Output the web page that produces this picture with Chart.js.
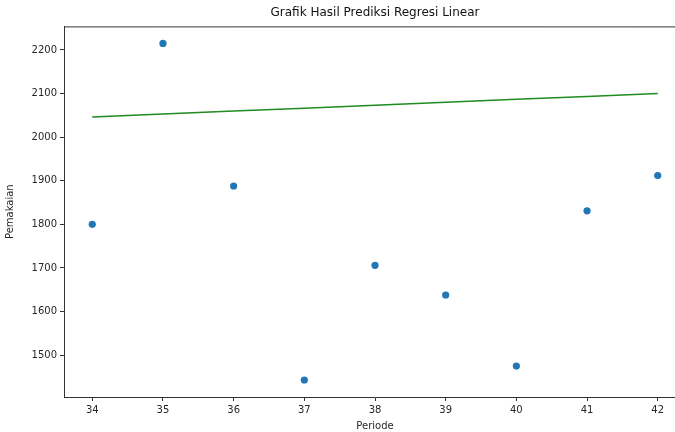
<!DOCTYPE html>
<html>
<head>
<meta charset="utf-8">
<script src="https://cdn.jsdelivr.net/npm/chart.js@4/dist/chart.umd.min.js"></script>
<style>
  html, body { margin: 0; padding: 0; background: #fff; overflow: hidden; }
  #wrap { width: 700px; height: 432px; }
</style>
</head>
<body>
<div id="wrap"><canvas id="c" width="700" height="432"></canvas></div>
<script>
const periods = [34, 35, 36, 37, 38, 39, 40, 41, 42];
const actualUsage = [1800, 2215, 1888, 1443, 1706, 1638, 1475, 1831, 1912];
const predictedUsage = [2046, 2053, 2060, 2066, 2073, 2080, 2087, 2093, 2100];
const xTicks = [34, 35, 36, 37, 38, 39, 40, 41, 42];
const yTicks = [1500, 1600, 1700, 1800, 1900, 2000, 2100, 2200];

const font = 'DejaVu Sans';
const tickColor = '#262626';

const topSpine = {
  id: 'topSpine',
  afterDraw(chart) {
    const { ctx, chartArea: a } = chart;
    ctx.save();
    ctx.strokeStyle = '#333';
    ctx.lineWidth = 1;
    ctx.beginPath();
    ctx.moveTo(a.left, a.top + 0.5);
    ctx.lineTo(a.right, a.top + 0.5);
    ctx.stroke();
    ctx.restore();
  }
};

new Chart(document.getElementById('c'), {
  type: 'scatter',
  data: {
    datasets: [
      {
        label: 'Prediksi',
        type: 'line',
        data: periods.map((p, i) => ({ x: p, y: predictedUsage[i] })),
        borderColor: '#1e8c1e',
        borderWidth: 1.5,
        pointRadius: 0,
        fill: false,
        tension: 0,
        order: 2
      },
      {
        label: 'Aktual',
        data: periods.map((p, i) => ({ x: p, y: actualUsage[i] })),
        backgroundColor: '#1f77b4',
        borderWidth: 0,
        pointRadius: 3.6,
        order: 1
      }
    ]
  },
  options: {
    responsive: false,
    animation: false,
    layout: { padding: { left: 4, right: 14, top: 0, bottom: 0 } },
    plugins: {
      legend: { display: false },
      tooltip: { enabled: false },
      title: {
        display: true,
        text: 'Grafik Hasil Prediksi Regresi Linear',
        fullSize: false,
        color: '#111',
        font: { family: font, size: 12, weight: 'normal' },
        padding: { top: 6, bottom: 6 }
      }
    },
    scales: {
      x: {
        type: 'linear',
        min: 33.6,
        max: 42.4,
        afterBuildTicks(s) { s.ticks = xTicks.map(v => ({ value: v })); },
        afterFit(s) { s.height = 35; },
        grid: { drawOnChartArea: false, drawTicks: true, tickLength: 4, color: '#333' },
        border: { color: '#333', width: 1 },
        ticks: { color: tickColor, font: { family: font, size: 10 }, padding: 3, maxRotation: 0, callback: v => String(v) },
        title: { display: true, text: 'Periode', color: tickColor, font: { family: font, size: 10 }, padding: { top: 0, bottom: 0 } }
      },
      y: {
        type: 'linear',
        min: 1404,
        max: 2254,
        afterBuildTicks(s) { s.ticks = yTicks.map(v => ({ value: v })); },
        afterFit(s) { s.width = 60; },
        grid: { drawOnChartArea: false, drawTicks: true, tickLength: 4, color: '#333' },
        border: { color: '#333', width: 1 },
        ticks: { color: tickColor, font: { family: font, size: 10 }, padding: 3, callback: v => String(v) },
        title: { display: true, text: 'Pemakaian', color: tickColor, font: { family: font, size: 10 }, padding: { top: 0, bottom: 0 } }
      }
    }
  },
  plugins: [topSpine]
});
</script>
</body>
</html>
